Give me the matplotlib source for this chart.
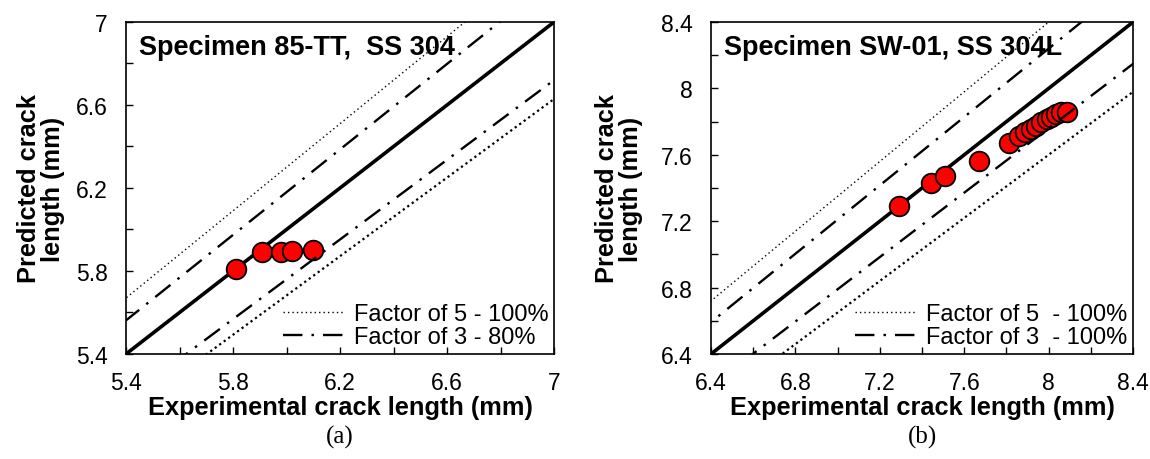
import numpy as np
import matplotlib
matplotlib.use('Agg')
import matplotlib.pyplot as plt
from matplotlib.ticker import MultipleLocator, FuncFormatter

plt.rcParams['font.family'] = ['Liberation Sans', 'DejaVu Sans']
plt.rcParams['lines.scale_dashes'] = False

# Panel (a): Specimen 85-TT, SS 304
exp_a = [5.81, 5.91, 5.98, 6.02, 6.10]
pred_a = [5.81, 5.89, 5.89, 5.895, 5.90]
lim_a = (5.4, 7.0)
f5_a = (1.05, 0.947)   # upper / lower bound factors, "Factor of 5"
f3_a = (1.03, 0.96)    # "Factor of 3"
title_a = 'Specimen 85-TT,  SS 304'
leg_a = ['Factor of 5 - 100%', 'Factor of 3 - 80%']

# Panel (b): Specimen SW-01, SS 304L
exp_b = [7.29, 7.44, 7.51, 7.67, 7.81, 7.86, 7.89, 7.915, 7.94, 7.965,
         7.99, 8.01, 8.035, 8.06, 8.085]
pred_b = [7.29, 7.43, 7.47, 7.565, 7.67, 7.715, 7.735, 7.755, 7.775, 7.795,
          7.815, 7.83, 7.845, 7.855, 7.86]
lim_b = (6.4, 8.4)
f5_b = (1.05, 0.95)
f3_b = (1.03, 0.97)
title_b = 'Specimen SW-01, SS 304L'
leg_b = ['Factor of 5  - 100%', 'Factor of 3  - 100%']

dashdot = (0, (14, 6.5, 1.8, 6.5))

fig = plt.figure(figsize=(11.5, 4.6), dpi=100)
ax_a = fig.add_axes([0.1096, 0.2283, 0.3722, 0.7217])
ax_b = fig.add_axes([0.6183, 0.2283, 0.3670, 0.7217])


def draw(ax, xs, ys, lim, f5, f3, title, legs, tx, letter):
    lo, hi = lim
    xx = np.array([lo - 1, hi + 1])
    ax.plot(xx, xx, color='black', lw=2.6, zorder=2)
    ax.scatter(xs, ys, s=200, facecolor='#ff0000', edgecolor='black',
               linewidth=1.3, zorder=3)
    l5, = ax.plot(xx, xx * f5[0], color='black', lw=1.0, ls=(0, (1, 2.2)), zorder=4)
    ax.plot(xx, xx * f5[1], color='black', lw=1.6, ls=(0, (1.6, 2.4)), zorder=4)
    l3, = ax.plot(xx, xx * f3[0], color='black', lw=1.7, ls=dashdot, zorder=4)
    ax.plot(xx, xx * f3[1], color='black', lw=1.7, ls=dashdot, zorder=4)
    ax.set_xlim(lo, hi)
    ax.set_ylim(lo, hi)

    def fmt(v, pos):
        k = (v - lo) / 0.4
        if abs(k - round(k)) < 1e-6:
            return '%g' % round(v, 1)
        return ''

    for axis in (ax.xaxis, ax.yaxis):
        axis.set_major_locator(MultipleLocator(0.2))
        axis.set_major_formatter(FuncFormatter(fmt))
    ax.tick_params(direction='in', length=5, width=1, labelsize=16.5)
    ax.tick_params(axis='y', pad=13)
    ax.tick_params(axis='x', pad=12)
    for sp in ax.spines.values():
        sp.set_linewidth(1.2)

    ax.set_xlabel('Experimental crack length (mm)', fontsize=18.3, fontweight='bold')
    ax.set_ylabel('Predicted crack\nlength (mm)', fontsize=18.3, fontweight='bold',
                  linespacing=1.0)
    ax.xaxis.set_label_coords(0.5, -0.125)
    ax.yaxis.set_label_coords(tx, 0.5)
    ax.text(0.03, 0.965, title, transform=ax.transAxes, fontsize=19.5,
            fontweight='bold', va='top', ha='left')
    ax.legend([l5, l3], legs, loc='lower right', frameon=False, fontsize=17,
              handlelength=2.6, handletextpad=0.4, labelspacing=0.05,
              borderaxespad=0.1, borderpad=0.15)
    ax.text(0.5, -0.215, letter, transform=ax.transAxes, ha='center', va='top',
            fontsize=18, family='Liberation Serif')


draw(ax_a, exp_a, pred_a, lim_a, f5_a, f3_a, title_a, leg_a, -0.143, '(a)')
draw(ax_b, exp_b, pred_b, lim_b, f5_b, f3_b, title_b, leg_b, -0.162, '(b)')

fig.savefig('out.png', dpi=100)
